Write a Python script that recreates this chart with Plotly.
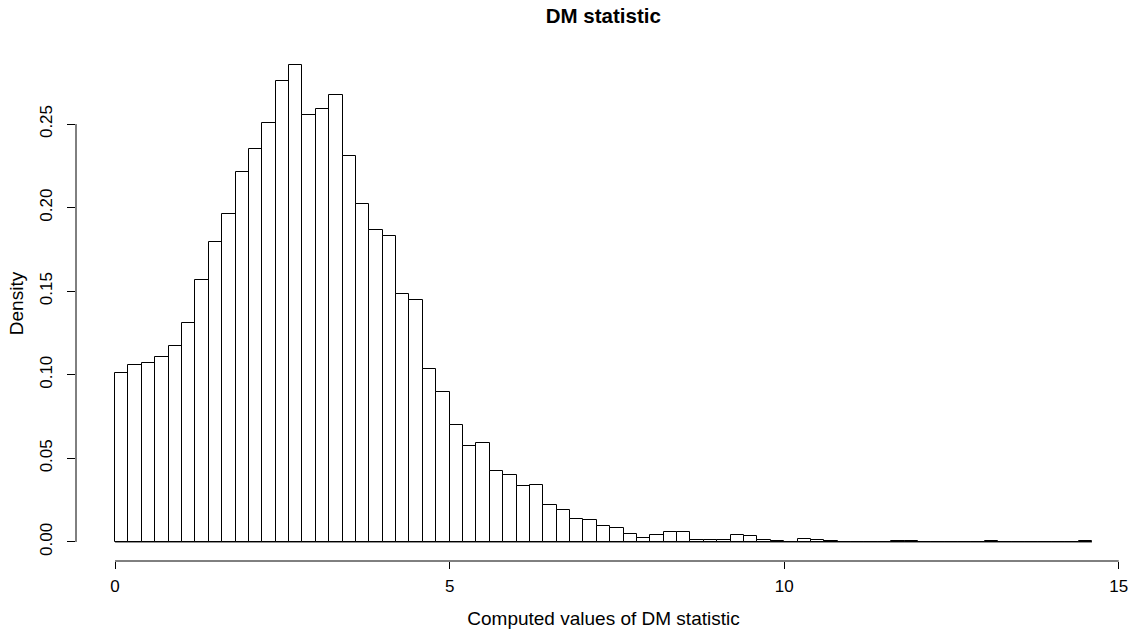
import numpy as np
import plotly.graph_objects as go

# Histogram data (density per bin), bins of width 0.2 starting at 0
bin_start = 0.0
bin_width = 0.2
density = [
    0.1009, 0.1060, 0.1068, 0.1104, 0.1172, 0.1312, 0.1566, 0.1795, 0.1961, 0.2216,
    0.2350, 0.2508, 0.2758, 0.2853, 0.2552, 0.2590, 0.2671, 0.2308, 0.2019, 0.1865,
    0.1829, 0.1482, 0.1446, 0.1034, 0.0897, 0.0701, 0.0571, 0.0591, 0.0422, 0.0398,
    0.0334, 0.0338, 0.0218, 0.0192, 0.0140, 0.0134, 0.0094, 0.0084, 0.0046, 0.0026,
    0.0044, 0.0058, 0.0058, 0.0014, 0.0012, 0.0012, 0.0044, 0.0034, 0.0014, 0.0008,
    0.0000, 0.0018, 0.0014, 0.0008, 0.0000, 0.0000, 0.0000, 0.0000, 0.0006, 0.0006,
    0.0000, 0.0000, 0.0000, 0.0000, 0.0000, 0.0006, 0.0000, 0.0000, 0.0000, 0.0000,
    0.0000, 0.0000, 0.0006,
]
x_ticks = [0, 5, 10, 15]
y_ticks = [0.00, 0.05, 0.10, 0.15, 0.20, 0.25]
y_tick_labels = ["0.00", "0.05", "0.10", "0.15", "0.20", "0.25"]

title = "DM statistic"
x_title = "Computed values of DM statistic"
y_title = "Density"

dens = np.array(density)
edges = bin_start + bin_width * np.arange(len(dens) + 1)
centers = (edges[:-1] + edges[1:]) / 2

# R-style 4% axis extension
xmin, xmax = edges[0], edges[-1]
xr = [xmin - 0.04 * (xmax - xmin), xmax + 0.04 * (xmax - xmin)]
ymax = dens.max()
yr = [-0.04 * ymax, 1.04 * ymax]

FONT = "Liberation Sans, Arial, sans-serif"

fig = go.Figure()
fig.add_trace(go.Bar(
    x=centers, y=dens, width=bin_width,
    marker=dict(color="white", line=dict(color="black", width=1)),
    hoverinfo="x+y", showlegend=False,
))
# baseline of the histogram across all bins (including empty ones)
fig.add_trace(go.Scatter(
    x=[edges[0], edges[-1]], y=[0, 0], mode="lines",
    line=dict(color="black", width=1), showlegend=False, hoverinfo="skip",
))

fig.update_layout(
    width=1137, height=635,
    margin=dict(l=76, r=6, t=46, b=74),
    paper_bgcolor="white", plot_bgcolor="white",
    font=dict(family=FONT, size=17, color="black"),
    title=dict(text="<b>" + title + "</b>", x=0.5306, xanchor="center",
               y=0.975, yanchor="middle", font=dict(size=20.5, family=FONT)),
    bargap=0,
    xaxis=dict(
        range=xr, tickmode="array", tickvals=x_ticks,
        ticktext=[str(t) for t in x_ticks],
        ticks="outside", ticklen=7, tickwidth=1, tickcolor="black",
        ticklabelstandoff=3,
        showline=False, showgrid=False, zeroline=False,
        title=dict(text=x_title, standoff=16, font=dict(size=19)),
    ),
    yaxis=dict(
        range=yr, tickmode="array", tickvals=y_ticks, ticktext=y_tick_labels,
        ticks="outside", ticklen=8, tickwidth=1, tickcolor="black",
        tickangle=-90, ticklabelstandoff=8,
        showline=False, showgrid=False, zeroline=False,
        title=dict(text=y_title, standoff=8, font=dict(size=19)),
    ),
    shapes=[
        dict(type="line", xref="x", yref="paper", x0=x_ticks[0], x1=x_ticks[-1],
             y0=0, y1=0, line=dict(color="black", width=1)),
        dict(type="line", xref="paper", yref="y", x0=0, x1=0,
             y0=y_ticks[0], y1=y_ticks[-1], line=dict(color="black", width=1)),
    ],
)

fig.write_html("out.html")
